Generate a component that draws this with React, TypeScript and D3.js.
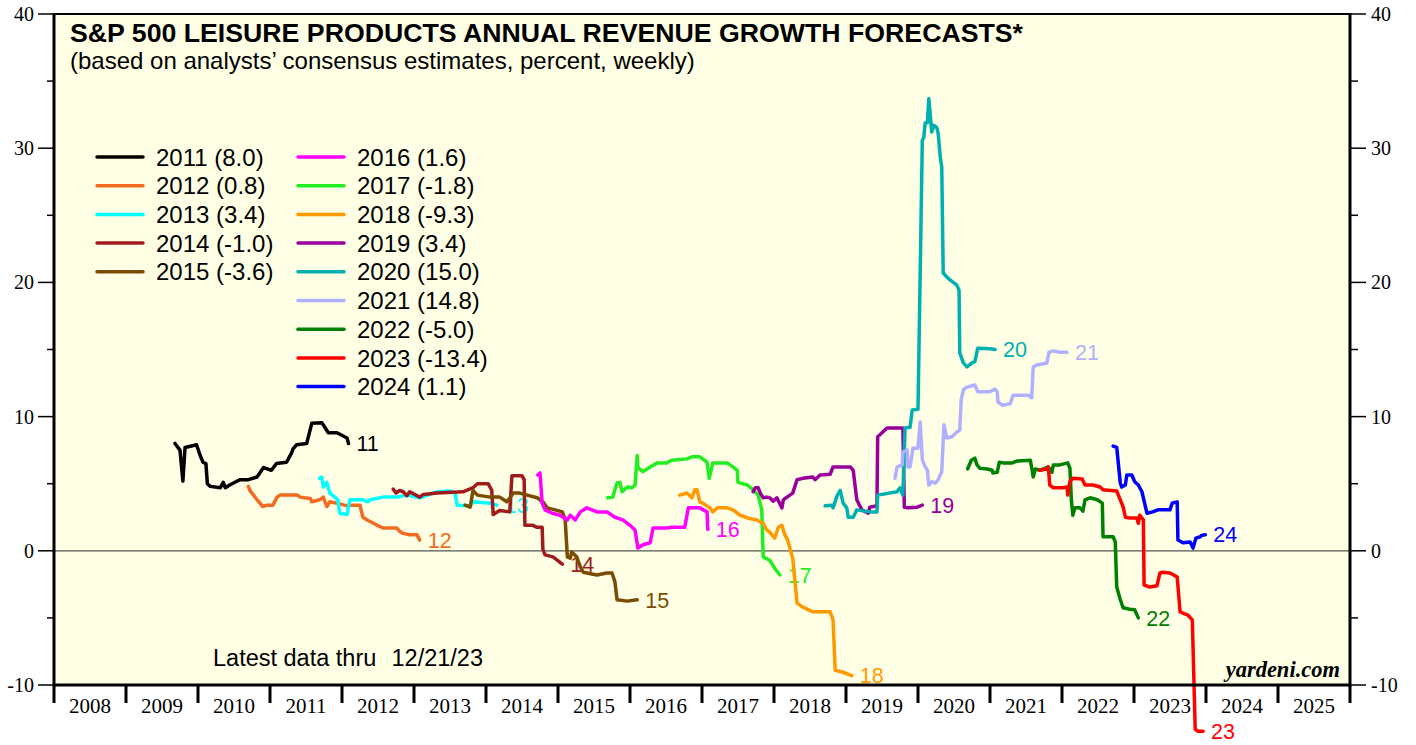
import React from "react";
import * as d3 from "d3";

const years = [2011, 2012, 2013, 2014, 2015, 2016, 2017, 2018, 2019, 2020, 2021, 2022, 2023, 2024];
const finalValues = [8.0, 0.8, 3.4, -1.0, -3.6, 1.6, -1.8, -9.3, 3.4, 15.0, 14.8, -5.0, -13.4, 1.1];
const colors = ["#000000", "#F26B21", "#00FFFF", "#A01C1C", "#7A4B00", "#FF00FF", "#22EE22", "#FF9900", "#990099", "#00B0B0", "#B0B0FF", "#008000", "#FF0000", "#0000FF"];
const xTickYears = d3.range(2008, 2027);
const yMajor = [-10, 0, 10, 20, 30, 40];
const yMinor = [-5, 5, 15, 25, 35];

const s2011 = [[2009.68,8.0],[2009.75,7.5],[2009.79,5.2],[2009.82,7.7],[2009.98,7.9],[2010.03,7.1],[2010.07,6.6],[2010.11,6.5],[2010.13,5.0],[2010.17,4.8],[2010.31,4.7],[2010.35,5.1],[2010.38,4.7],[2010.44,4.9],[2010.58,5.3],[2010.70,5.3],[2010.82,5.5],[2010.91,6.2],[2011.02,6.0],[2011.09,6.5],[2011.23,6.6],[2011.30,7.3],[2011.32,7.6],[2011.37,7.9],[2011.51,8.0],[2011.58,9.5],[2011.72,9.55],[2011.81,8.8],[2011.93,8.8],[2012.07,8.4],[2012.09,8.0]];
const s2012 = [[2010.70,4.8],[2010.72,4.5],[2010.82,3.8],[2010.90,3.3],[2010.96,3.4],[2011.04,3.4],[2011.10,4.0],[2011.14,4.15],[2011.38,4.15],[2011.42,4.0],[2011.56,3.9],[2011.58,3.65],[2011.69,3.8],[2011.74,4.0],[2011.79,3.3],[2011.83,3.65],[2011.93,3.55],[2012.07,3.35],[2012.11,3.4],[2012.25,3.4],[2012.29,2.5],[2012.35,2.3],[2012.49,1.9],[2012.57,1.7],[2012.76,1.7],[2012.81,1.4],[2012.85,1.3],[2012.94,1.2],[2013.04,1.2],[2013.08,0.8]];
const s2013 = [[2011.69,5.4],[2011.72,5.5],[2011.74,4.75],[2011.79,5.1],[2011.83,4.3],[2011.90,4.0],[2011.94,3.8],[2011.97,2.8],[2012.07,2.7],[2012.11,3.8],[2012.29,3.8],[2012.36,3.65],[2012.39,3.8],[2012.57,4.0],[2012.76,4.0],[2012.90,4.15],[2013.08,3.95],[2013.32,4.4],[2013.50,4.45],[2013.57,4.3],[2013.60,3.4],[2013.78,3.35],[2013.82,3.65],[2014.06,3.55],[2014.15,3.4]];
const s2014 = [[2012.71,4.6],[2012.75,4.3],[2012.80,4.5],[2012.85,4.4],[2012.90,4.1],[2012.94,4.4],[2013.08,4.0],[2013.13,4.2],[2013.32,4.3],[2013.68,4.4],[2013.82,4.7],[2013.88,5.0],[2014.03,5.0],[2014.08,4.5],[2014.10,2.7],[2014.19,3.0],[2014.33,2.9],[2014.36,5.6],[2014.50,5.6],[2014.53,5.3],[2014.54,1.9],[2014.65,1.9],[2014.71,1.75],[2014.78,1.75],[2014.79,0.1],[2014.82,-0.3],[2014.93,-0.45],[2015.06,-1.0]];
const s2015 = [[2013.71,3.4],[2013.78,3.25],[2013.82,4.5],[2013.88,4.15],[2014.06,4.0],[2014.19,4.0],[2014.29,3.65],[2014.38,4.3],[2014.47,4.3],[2014.57,4.15],[2014.71,3.95],[2014.79,3.65],[2014.85,3.2],[2014.96,3.05],[2015.06,2.9],[2015.10,2.3],[2015.13,-0.45],[2015.17,-0.55],[2015.19,-0.1],[2015.26,-0.45],[2015.31,-1.2],[2015.35,-1.6],[2015.40,-1.65],[2015.54,-1.8],[2015.68,-1.65],[2015.75,-1.65],[2015.79,-2.3],[2015.82,-3.65],[2015.96,-3.75],[2016.10,-3.65]];
const s2016 = [[2014.72,5.65],[2014.75,5.8],[2014.78,3.55],[2014.82,3.05],[2014.92,2.8],[2015.03,2.65],[2015.13,2.3],[2015.17,2.65],[2015.24,2.3],[2015.31,2.9],[2015.40,3.2],[2015.54,2.9],[2015.68,2.9],[2015.79,2.5],[2015.90,2.3],[2016.00,1.9],[2016.07,1.55],[2016.11,0.2],[2016.18,0.45],[2016.28,0.6],[2016.32,1.7],[2016.51,1.7],[2016.58,1.75],[2016.76,1.75],[2016.81,3.2],[2016.97,3.2],[2017.07,2.9],[2017.08,1.6]];
const s2017 = [[2015.69,3.95],[2015.76,4.0],[2015.82,5.05],[2015.86,5.1],[2015.89,4.4],[2015.96,4.75],[2016.03,4.7],[2016.07,4.9],[2016.10,7.1],[2016.11,6.2],[2016.18,5.9],[2016.28,6.25],[2016.38,6.55],[2016.51,6.55],[2016.58,6.75],[2016.79,6.85],[2016.86,7.0],[2016.97,7.0],[2017.07,6.6],[2017.10,5.4],[2017.15,6.55],[2017.35,6.55],[2017.43,6.25],[2017.49,6.0],[2017.50,5.1],[2017.63,4.9],[2017.71,4.55],[2017.78,4.15],[2017.83,3.05],[2017.85,-0.45],[2017.94,-0.7],[2018.01,-1.3],[2018.08,-1.8]];
const s2018 = [[2016.69,4.15],[2016.79,4.3],[2016.86,3.95],[2016.90,4.55],[2016.93,4.55],[2016.97,3.65],[2017.01,3.55],[2017.11,3.2],[2017.15,2.9],[2017.21,3.2],[2017.35,3.2],[2017.43,3.05],[2017.53,2.65],[2017.63,2.45],[2017.76,2.3],[2017.85,2.05],[2017.90,1.55],[2017.94,1.4],[2018.01,0.95],[2018.06,1.75],[2018.11,1.9],[2018.15,1.2],[2018.19,0.8],[2018.22,0.2],[2018.26,-0.55],[2018.32,-3.9],[2018.40,-4.2],[2018.54,-4.55],[2018.78,-4.55],[2018.82,-5.15],[2018.85,-8.9],[2018.96,-9.05],[2019.08,-9.3]];
const s2019 = [[2017.71,4.4],[2017.74,4.7],[2017.78,4.7],[2017.81,4.3],[2017.85,3.95],[2017.90,4.0],[2017.94,3.95],[2017.99,3.7],[2018.04,3.95],[2018.11,3.2],[2018.13,3.8],[2018.18,4.0],[2018.26,4.3],[2018.32,5.3],[2018.40,5.4],[2018.54,5.5],[2018.57,5.3],[2018.64,5.65],[2018.78,5.7],[2018.82,6.25],[2019.06,6.25],[2019.10,6.0],[2019.15,3.8],[2019.22,3.05],[2019.31,2.8],[2019.33,3.25],[2019.43,3.35],[2019.44,8.5],[2019.57,9.15],[2019.79,9.15],[2019.81,3.25],[2019.86,3.2],[2019.99,3.25],[2020.06,3.4]];
const s2020 = [[2018.71,3.35],[2018.81,3.4],[2018.82,3.2],[2018.88,4.15],[2018.92,4.5],[2018.96,3.55],[2019.01,3.2],[2019.03,2.5],[2019.10,2.5],[2019.15,3.05],[2019.33,2.9],[2019.43,2.9],[2019.44,4.15],[2019.71,4.4],[2019.75,4.7],[2019.79,4.15],[2019.82,9.15],[2019.89,9.2],[2019.92,10.5],[2020.00,10.55],[2020.06,30.6],[2020.08,30.8],[2020.10,31.9],[2020.13,31.9],[2020.15,33.7],[2020.18,31.9],[2020.19,31.2],[2020.22,31.7],[2020.26,31.55],[2020.28,31.1],[2020.31,29.3],[2020.33,28.6],[2020.35,20.7],[2020.40,20.4],[2020.44,20.2],[2020.49,20.0],[2020.54,19.8],[2020.57,19.4],[2020.58,14.75],[2020.63,14.0],[2020.68,13.7],[2020.75,14.0],[2020.79,14.1],[2020.83,15.1],[2021.00,15.05],[2021.07,15.0]];
const s2021 = [[2019.68,5.4],[2019.71,6.25],[2019.78,6.4],[2019.79,7.35],[2019.85,7.5],[2019.86,6.25],[2019.89,6.25],[2019.93,7.65],[2020.00,7.65],[2020.03,9.6],[2020.06,6.8],[2020.10,6.25],[2020.13,6.0],[2020.15,4.9],[2020.19,5.15],[2020.24,5.05],[2020.28,5.3],[2020.33,5.9],[2020.36,9.4],[2020.40,8.4],[2020.47,8.5],[2020.54,8.85],[2020.58,9.0],[2020.60,11.25],[2020.63,12.0],[2020.68,12.2],[2020.79,12.35],[2020.83,11.85],[2021.00,11.85],[2021.07,12.05],[2021.10,11.85],[2021.11,11.1],[2021.17,10.85],[2021.28,10.95],[2021.32,11.6],[2021.53,11.6],[2021.58,11.4],[2021.60,13.7],[2021.65,13.85],[2021.79,14.0],[2021.82,14.8],[2021.88,14.9],[2021.97,14.8],[2022.07,14.8]];
const s2022 = [[2020.69,6.1],[2020.74,6.75],[2020.79,6.9],[2020.82,6.4],[2020.86,6.15],[2020.96,6.1],[2021.03,6.0],[2021.04,5.8],[2021.10,5.85],[2021.13,6.6],[2021.18,6.55],[2021.31,6.55],[2021.38,6.7],[2021.56,6.75],[2021.58,6.15],[2021.60,5.5],[2021.63,6.1],[2021.69,6.0],[2021.81,6.25],[2021.86,5.85],[2021.88,6.4],[2021.97,6.4],[2022.08,6.55],[2022.11,6.15],[2022.13,3.8],[2022.15,2.65],[2022.18,3.2],[2022.25,3.2],[2022.29,2.95],[2022.32,3.8],[2022.39,3.95],[2022.49,3.8],[2022.56,3.55],[2022.57,1.05],[2022.71,1.05],[2022.74,0.65],[2022.76,-2.7],[2022.81,-3.65],[2022.85,-4.25],[2022.94,-4.35],[2023.01,-4.4],[2023.06,-5.0]];
const s2023 = [[2021.69,6.0],[2021.79,6.1],[2021.81,6.25],[2021.83,4.9],[2021.88,4.7],[2022.01,4.7],[2022.07,4.75],[2022.08,4.15],[2022.11,5.15],[2022.15,5.4],[2022.28,5.35],[2022.32,4.9],[2022.43,4.9],[2022.53,4.75],[2022.57,4.55],[2022.76,4.45],[2022.81,3.8],[2022.85,3.25],[2022.88,2.5],[2022.94,2.45],[2023.04,2.45],[2023.06,2.05],[2023.08,2.65],[2023.13,2.3],[2023.14,-2.55],[2023.22,-2.7],[2023.32,-2.6],[2023.36,-1.65],[2023.40,-1.6],[2023.50,-1.65],[2023.60,-1.95],[2023.64,-4.55],[2023.68,-4.65],[2023.75,-4.8],[2023.81,-5.15],[2023.85,-13.3],[2023.89,-13.45],[2023.96,-13.45]];
const s2024 = [[2022.71,7.8],[2022.76,7.7],[2022.81,5.05],[2022.83,4.75],[2022.88,4.9],[2022.90,5.65],[2022.97,5.65],[2023.01,5.15],[2023.06,4.9],[2023.11,4.4],[2023.13,3.95],[2023.18,2.8],[2023.26,2.9],[2023.33,3.05],[2023.50,3.05],[2023.53,3.55],[2023.60,3.65],[2023.61,0.8],[2023.68,0.6],[2023.78,0.65],[2023.82,0.2],[2023.86,0.95],[2023.92,1.05],[2023.94,1.15],[2023.99,1.2]];

const seriesData = [s2011, s2012, s2013, s2014, s2015, s2016, s2017, s2018, s2019, s2020, s2021, s2022, s2023, s2024];

const SANS = "'Liberation Sans', Arial, Helvetica, sans-serif";
const SERIF = "'Liberation Serif', 'Times New Roman', serif";

export default function App() {
  const left = 54, right = 1350, top = 14, bottom = 685;
  const x = d3.scaleLinear().domain([2008, 2026]).range([left, right]);
  const y = d3.scaleLinear().domain([-10, 40]).range([bottom, top]);
  const line = d3.line<number[]>().x((d) => x(d[0])).y((d) => y(d[1]));

  const legendRow = 28.7;
  const legendTop = 157;

  return (
    <svg width={1416} height={745} style={{ position: "fixed", left: 0, top: 0, background: "#fff" }}>
      <rect x={0} y={0} width={1416} height={745} fill="#ffffff" />
      <rect x={left} y={top} width={right - left} height={bottom - top} fill="#FFFFE5" />

      {/* zero line */}
      <line x1={left} x2={right} y1={y(0)} y2={y(0)} stroke="#555" strokeWidth={1.3} />

      {/* title */}
      <text x={70} y={42} fontFamily={SANS} fontWeight="bold" fontSize={26.7} fill="#000">
        S&amp;P 500 LEISURE PRODUCTS ANNUAL REVENUE GROWTH FORECASTS*
      </text>
      <text x={70} y={69} fontFamily={SANS} fontSize={24} fill="#000">
        (based on analysts’ consensus estimates, percent, weekly)
      </text>

      {/* legend */}
      {years.map((yr, i) => {
        const col = i < 5 ? 0 : 1;
        const row = i < 5 ? i : i - 5;
        const lx = col === 0 ? 97 : 298;
        const ly = legendTop + row * legendRow;
        return (
          <g key={"lg" + yr}>
            <line x1={lx} x2={lx + 46} y1={ly} y2={ly} stroke={colors[i]} strokeWidth={3.5} strokeLinecap="round" />
            <text x={lx + 59} y={ly} dy="0.36em" fontFamily={SANS} fontSize={24} fill="#000">
              {`${yr} (${finalValues[i].toFixed(1)})`}
            </text>
          </g>
        );
      })}

      {/* series */}
      {seriesData.map((s, i) => {
        const last = s[s.length - 1];
        return (
          <g key={"s" + years[i]}>
            <path d={line(s) || ""} fill="none" stroke={colors[i]} strokeWidth={3.5} strokeLinejoin="round" strokeLinecap="round" />
            <text x={x(last[0]) + 8} y={y(last[1])} dy="0.36em" fontFamily={SANS} fontSize={21.5} fill={colors[i]}>
              {String(years[i] % 100)}
            </text>
          </g>
        );
      })}

      {/* notes */}
      <text x={213} y={666} fontFamily={SANS} fontSize={23.5} fill="#000">
        Latest data thru
      </text>
      <text x={483} y={666} textAnchor="end" fontFamily={SANS} fontSize={23.5} fill="#000">
        12/21/23
      </text>
      <text x={1340} y={677} textAnchor="end" fontFamily={SERIF} fontWeight="bold" fontStyle="italic" fontSize={22.5} fill="#000">
        yardeni.com
      </text>

      {/* frame */}
      <line x1={left} x2={right} y1={top} y2={top} stroke="#000" strokeWidth={2} />
      <line x1={left} x2={right} y1={bottom} y2={bottom} stroke="#000" strokeWidth={3} />
      <line x1={left} x2={left} y1={top - 1} y2={bottom + 1.5} stroke="#000" strokeWidth={3} />
      <line x1={right} x2={right} y1={top - 1} y2={bottom + 1.5} stroke="#000" strokeWidth={3} />

      {/* y axes */}
      {yMajor.map((v) => (
        <g key={"ym" + v}>
          <line x1={38} x2={left} y1={y(v)} y2={y(v)} stroke="#000" strokeWidth={1.5} />
          <line x1={right} x2={1366} y1={y(v)} y2={y(v)} stroke="#000" strokeWidth={1.5} />
          <text x={34} y={y(v)} dy="0.35em" textAnchor="end" fontFamily={SERIF} fontSize={20} fill="#000">{v}</text>
          <text x={1371} y={y(v)} dy="0.35em" textAnchor="start" fontFamily={SERIF} fontSize={20} fill="#000">{v}</text>
        </g>
      ))}
      {yMinor.map((v) => (
        <g key={"yn" + v}>
          <line x1={47} x2={left} y1={y(v)} y2={y(v)} stroke="#000" strokeWidth={1.5} />
          <line x1={right} x2={1358} y1={y(v)} y2={y(v)} stroke="#000" strokeWidth={1.5} />
        </g>
      ))}

      {/* x axis */}
      {xTickYears.map((yr) => (
        <line key={"xt" + yr} x1={x(yr)} x2={x(yr)} y1={bottom} y2={703} stroke="#000" strokeWidth={3} />
      ))}
      {xTickYears.slice(0, -1).map((yr) => (
        <text key={"xl" + yr} x={x(yr + 0.5)} y={713} textAnchor="middle" fontFamily={SERIF} fontSize={21} fill="#000">{yr}</text>
      ))}
    </svg>
  );
}
